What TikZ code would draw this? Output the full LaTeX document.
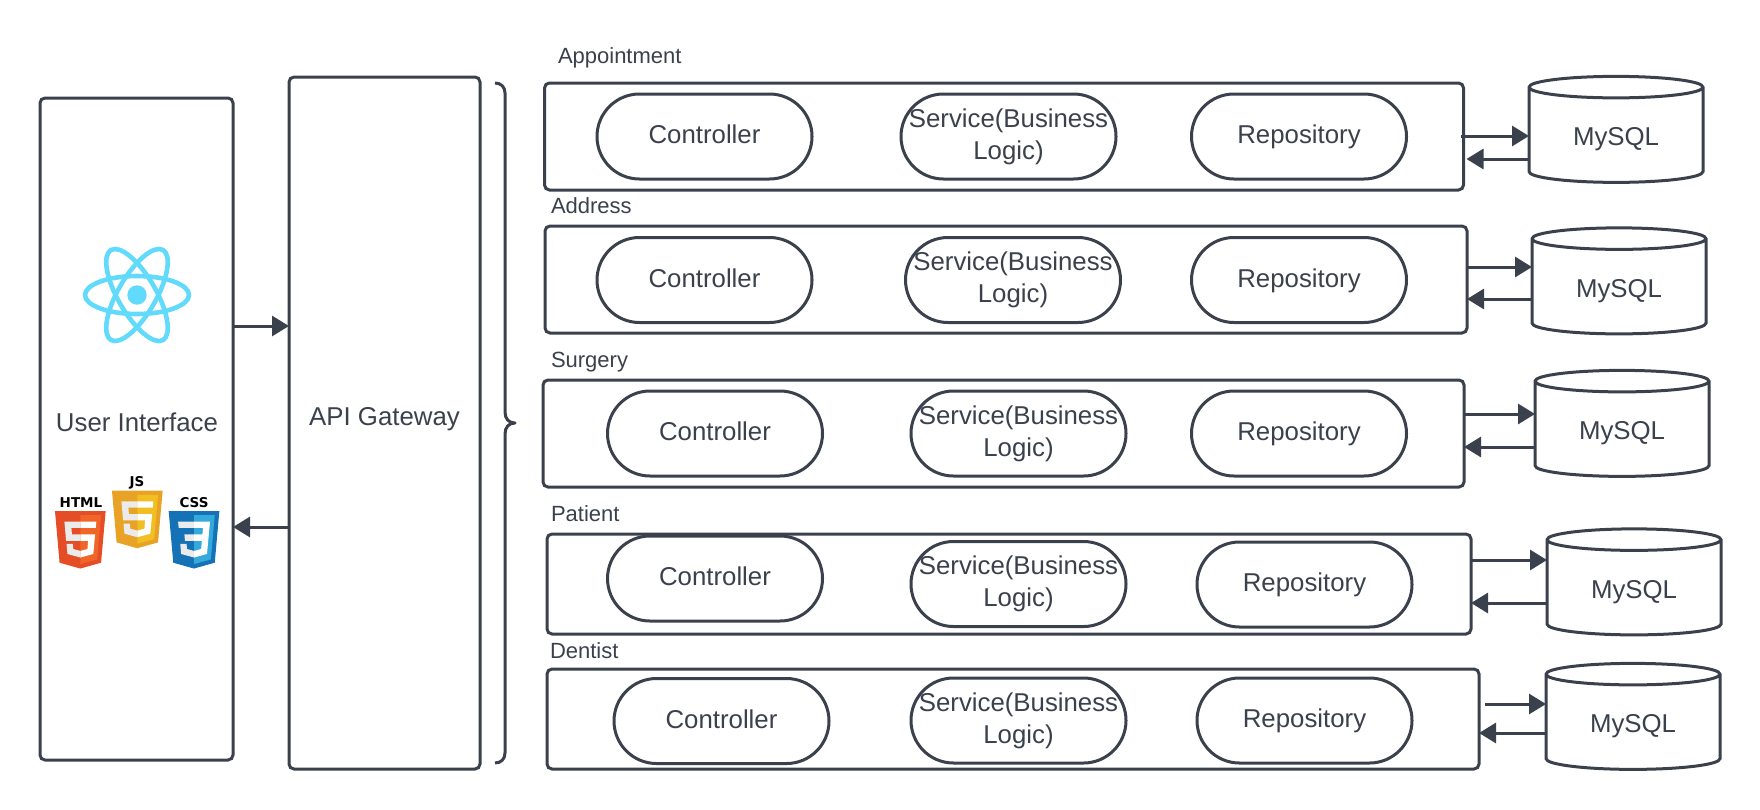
\documentclass[tikz,border=0pt]{standalone}
\usepackage{fontspec}
\setmainfont{Liberation Sans}
\usetikzlibrary{arrows.meta,shapes.geometric}
\definecolor{inkgray}{HTML}{3A414C}
\definecolor{reactblue}{HTML}{61DAFB}
\definecolor{htmldark}{HTML}{E44D26}
\definecolor{htmllight}{HTML}{F16529}
\definecolor{cssdark}{HTML}{1572B6}
\definecolor{csslight}{HTML}{33A9DC}
\definecolor{jsdark}{HTML}{E8A327}
\definecolor{jslight}{HTML}{F2BF22}
\newcommand{\shieldbase}[2]{%
	\fill[#1] (30,0) -- (481,0) -- (440,460) -- (255,512) -- (71,460) -- cycle;
	\fill[#2] (256,37) -- (440,37) -- (405,431) -- (256,472) -- cycle;}
\newcommand{\glyphfive}{%
	\fill[black!8] (256,94) -- (114,94) -- (129,265) -- (256,265) -- (256,208) -- (181,208) -- (176,150) -- (256,150) -- cycle;
	\fill[black!8] (256,355) -- (193,338) -- (189,293) -- (133,293) -- (141,382) -- (256,414) -- cycle;
	\fill[white] (256,94) -- (398,94) -- (393,150) -- (256,150) -- cycle;
	\fill[white] (256,208) -- (387,208) -- (371,382) -- (256,414) -- (256,355) -- (319,338) -- (325,265) -- (256,265) -- cycle;}
\newcommand{\glyphthree}{%
	\fill[black!8] (256,94) -- (114,94) -- (119,150) -- (256,150) -- cycle;
	\fill[black!8] (256,208) -- (170,208) -- (175,265) -- (256,265) -- cycle;
	\fill[black!8] (256,355) -- (193,338) -- (189,293) -- (133,293) -- (141,382) -- (256,414) -- cycle;
	\fill[white] (256,94) -- (398,94) -- (371,382) -- (256,414) -- (256,355) -- (319,338) -- (325,265) -- (256,265) -- (256,208) -- (330,208) -- (335,150) -- (256,150) -- cycle;}

\begin{document}
\begin{tikzpicture}[
			x=1pt, y=-1pt,
			every node/.style={text=inkgray, font=\fontsize{25.8}{32}\selectfont, align=center, outer sep=0pt, inner sep=0pt},
			oneline/.style={text height=20pt, text depth=6pt},
			tallbox/.style={draw=inkgray, line width=3pt, rectangle, rounded corners=5pt},
			rowbox/.style={draw=inkgray, line width=3pt, rectangle, rounded corners=5pt},
			pill/.style={draw=inkgray, line width=3pt, rectangle, rounded corners=42.5pt, minimum width=215pt, minimum height=85pt},
			dbcyl/.style={draw=inkgray, line width=3pt, cylinder, shape border rotate=90, aspect=0.25, minimum width=174pt, minimum height=106pt, text height=26pt, text depth=6pt},
			rowlabel/.style={anchor=west, font=\fontsize{22}{26}\selectfont},
			logotext/.style={text=black, font=\fontsize{13.5}{15}\bfseries\fontspec{DejaVu Sans}\selectfont},
			flow/.style={draw=inkgray, line width=3pt, -{Triangle[length=17pt,width=20pt]}}
			]
			\useasboundingbox (0,0) rectangle (1760,809);
			%left column
			\node[tallbox, minimum width=193pt, minimum height=662pt] (uibox) at (136.5,429) {};
			\node[tallbox, text height=18pt, text depth=13pt, minimum width=191pt, minimum height=692pt] (gatewaybox) at (384.5,423) {API Gateway};
			\node[oneline] (uilabel) at (137,424) {User Interface};
			%react logo
			\fill[reactblue] (137,295) circle (9.7);
			\foreach \ang in {0,60,120}
				\draw[reactblue, line width=4.6pt, rotate around={\ang:(137,295)}] (137,295) ellipse (52 and 19);
			%web logos
			\begin{scope}[shift={(51.6,511)}, x=0.1124pt, y=-0.1124pt]
				\shieldbase{htmldark}{htmllight}
				\glyphfive
			\end{scope}
			\begin{scope}[shift={(108.6,490.7)}, x=0.1124pt, y=-0.1124pt]
				\shieldbase{jsdark}{jslight}
				\glyphfive
			\end{scope}
			\begin{scope}[shift={(165.3,511)}, x=0.1124pt, y=-0.1124pt]
				\shieldbase{cssdark}{csslight}
				\glyphthree
			\end{scope}
			\node[logotext] (htmltext) at (81,503) {HTML};
			\node[logotext] (jstext) at (137,483) {JS};
			\node[logotext] (csstext) at (194,503) {CSS};
			%bracket
			\draw[inkgray, line width=3pt, line join=round] (495,83) .. controls (501,83) and (505,87) .. (505,93) -- (505,412) .. controls (505,419) and (509,423) .. (515,423) .. controls (509,423) and (505,427) .. (505,434) -- (505,753) .. controls (505,759) and (501,763) .. (495,763);
			%appointment
			\node[rowlabel] (appointmenttext) at (558,58) {Appointment};
			\node[rowbox, minimum width=919pt, minimum height=107pt] (appointmentbox) at (1004,136.5) {};
			\node[pill, oneline] (appointmentctrl) at (704.5,136.5) {Controller};
			\node[pill] (appointmentsvc) at (1008.5,136.5) {Service(Business\\Logic)};
			\node[pill, oneline] (appointmentrepo) at (1299,136.5) {Repository};
			\node[dbcyl] (appointmentdb) at (1616,135.5) {MySQL};
			\draw[flow] ([xshift=-3pt]appointmentbox.east |- 0,136) -- (appointmentdb.west |- 0,136);
			\draw[flow] (appointmentdb.west |- 0,159) -- ([xshift=3pt]appointmentbox.east |- 0,159);
			%address
			\node[rowlabel] (addresstext) at (551,206) {Address};
			\node[rowbox, minimum width=922pt, minimum height=107pt] (addressbox) at (1006,279.5) {};
			\node[pill, oneline] (addressctrl) at (704.5,280) {Controller};
			\node[pill] (addresssvc) at (1013,280) {Service(Business\\Logic)};
			\node[pill, oneline] (addressrepo) at (1299,280) {Repository};
			\node[dbcyl] (addressdb) at (1619,287) {MySQL};
			\draw[flow] (addressbox.east |- 0,267) -- (addressdb.west |- 0,267);
			\draw[flow] (addressdb.west |- 0,299) -- (addressbox.east |- 0,299);
			%surgery
			\node[rowlabel] (surgerytext) at (551,362) {Surgery};
			\node[rowbox, minimum width=921pt, minimum height=107pt] (surgerybox) at (1003.5,433.5) {};
			\node[pill, oneline] (surgeryctrl) at (715,433.5) {Controller};
			\node[pill] (surgerysvc) at (1018.5,433.5) {Service(Business\\Logic)};
			\node[pill, oneline] (surgeryrepo) at (1299,433.5) {Repository};
			\node[dbcyl] (surgerydb) at (1622,429.5) {MySQL};
			\draw[flow] (surgerybox.east |- 0,414) -- (surgerydb.west |- 0,414);
			\draw[flow] (surgerydb.west |- 0,447) -- (surgerybox.east |- 0,447);
			%patient
			\node[rowlabel] (patienttext) at (551,514) {Patient};
			\node[rowbox, minimum width=924pt, minimum height=100pt] (patientbox) at (1009,584) {};
			\node[pill, oneline] (patientctrl) at (715,578.5) {Controller};
			\node[pill] (patientsvc) at (1018.5,584) {Service(Business\\Logic)};
			\node[pill, oneline] (patientrepo) at (1304.5,584.5) {Repository};
			\node[dbcyl] (patientdb) at (1634,588) {MySQL};
			\draw[flow] (patientbox.east |- 0,560) -- (patientdb.west |- 0,560);
			\draw[flow] (patientdb.west |- 0,603) -- (patientbox.east |- 0,603);
			%dentist
			\node[rowlabel] (dentisttext) at (550,651) {Dentist};
			\node[rowbox, minimum width=932pt, minimum height=100pt] (dentistbox) at (1013,719) {};
			\node[pill, oneline] (dentistctrl) at (721.5,721) {Controller};
			\node[pill] (dentistsvc) at (1018.5,720.5) {Service(Business\\Logic)};
			\node[pill, oneline] (dentistrepo) at (1304.5,720.5) {Repository};
			\node[dbcyl] (dentistdb) at (1633,722.5) {MySQL};
			\draw[flow] ([xshift=6pt]dentistbox.east |- 0,704) -- (dentistdb.west |- 0,704);
			\draw[flow] (dentistdb.west |- 0,733) -- (dentistbox.east |- 0,733);
			%gateway arrows
			\draw[flow] (uibox.east |- 0,326) -- (gatewaybox.west |- 0,326);
			\draw[flow] (gatewaybox.west |- 0,527) -- (uibox.east |- 0,527);
\end{tikzpicture}
\end{document}
